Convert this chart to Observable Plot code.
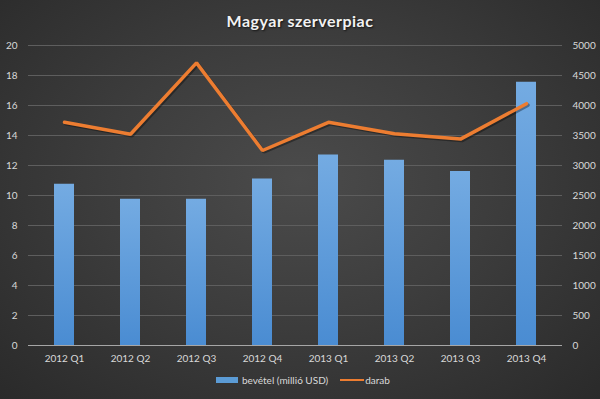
<!DOCTYPE html>
<html>
<head>
<meta charset="utf-8">
<script src="https://cdn.jsdelivr.net/npm/d3@7"></script>
<script src="https://cdn.jsdelivr.net/npm/@observablehq/plot@0.6"></script>
<style>
  html, body { margin: 0; padding: 0; background: #2b2b2b; }
  #wrap {
    position: relative; width: 600px; height: 399px; overflow: hidden;
    background: radial-gradient(ellipse at 50% 45%, #4b4b4b 0%, #3d3d3d 45%, #2a2a2a 100%);
    font-family: Lato, "Open Sans", sans-serif;
  }
  #title {
    position: absolute; left: 0; top: 11px; width: 600px; text-align: center;
    color: #f2f2f2; font-weight: bold; font-size: 16px; letter-spacing: 0.5px;
    text-shadow: 1px 1px 2px rgba(0,0,0,0.7);
  }
  #chart { position: absolute; left: 0; top: 0; }
  #legend {
    position: absolute; top: 374px; left: 216px; color: #d9d9d9; font-size: 10px;
    display: flex; align-items: center; white-space: nowrap;
  }
  .sw-bar { width: 22px; height: 6px; background: #5b9bd5; margin-right: 4px; }
  .sw-line { width: 24px; height: 2.5px; background: #ed7d31; margin-left: 12px; margin-right: 1px; }
</style>
</head>
<body>
<div id="wrap">
  <div id="chart"></div>
  <div id="title">Magyar szerverpiac</div>
  <div id="legend">
    <span class="sw-bar"></span><span>bevétel (millió USD)</span>
    <span class="sw-line"></span><span>darab</span>
  </div>
</div>
<script>
const quarters = ["2012 Q1","2012 Q2","2012 Q3","2012 Q4","2013 Q1","2013 Q2","2013 Q3","2013 Q4"];
const bevetel = [10.75, 9.75, 9.75, 11.1, 12.7, 12.35, 11.6, 17.55];
const darab = [3720, 3520, 4710, 3250, 3720, 3530, 3440, 4030];
const leftTicks = [0,2,4,6,8,10,12,14,16,18,20];
const rightTicks = [0,500,1000,1500,2000,2500,3000,3500,4000,4500,5000];

const ratio = 5000 / 20;
const data = quarters.map((q, i) => ({q, b: bevetel[i], d: darab[i]}));

const plot = Plot.plot({
  width: 600,
  height: 399,
  marginLeft: 28,
  marginRight: 38,
  marginTop: 45,
  marginBottom: 54,
  style: {background: "transparent", color: "#d9d9d9", fontFamily: "Lato, 'Open Sans', sans-serif", fontSize: "10px"},
  x: {domain: quarters, paddingInner: 0.7, paddingOuter: 0.35, label: null},
  y: {domain: [0, 20], label: null},
  marks: [
    Plot.ruleY(leftTicks.filter(d => d > 0), {stroke: "#5e5e5e", strokeWidth: 1}),
    Plot.barY(data, {x: "q", y: "b", fill: "url(#barGrad)"}),
    Plot.ruleY([0], {stroke: "#a6a6a6", strokeWidth: 1}),
    Plot.line(data, {x: "q", y: d => d.d / ratio, stroke: "#000", strokeOpacity: 0.35, strokeWidth: 3.5, dx: 1.5, dy: 1.5, strokeLinejoin: "miter"}),
    Plot.line(data, {x: "q", y: d => d.d / ratio, stroke: "#ed7d31", strokeWidth: 3.5, strokeLinejoin: "miter"}),
    Plot.axisY(leftTicks, {anchor: "left", tickSize: 0, tickPadding: 11, label: null, fill: "#d9d9d9"}),
    Plot.axisY(rightTicks.map(v => v / ratio), {anchor: "right", tickSize: 0, tickPadding: 10, label: null, fill: "#d9d9d9", tickFormat: d => String(Math.round(d * ratio))}),
    Plot.axisX({tickSize: 0, tickPadding: 9, label: null, fill: "#d9d9d9"})
  ]
});

const ns = "http://www.w3.org/2000/svg";
const defs = document.createElementNS(ns, "defs");
defs.innerHTML = `<linearGradient id="barGrad" x1="0" y1="0" x2="0" y2="1">
  <stop offset="0" stop-color="#74abe2"/>
  <stop offset="1" stop-color="#4a8cd2"/>
</linearGradient>`;
plot.insertBefore(defs, plot.firstChild);
document.getElementById("chart").appendChild(plot);
</script>
</body>
</html>
